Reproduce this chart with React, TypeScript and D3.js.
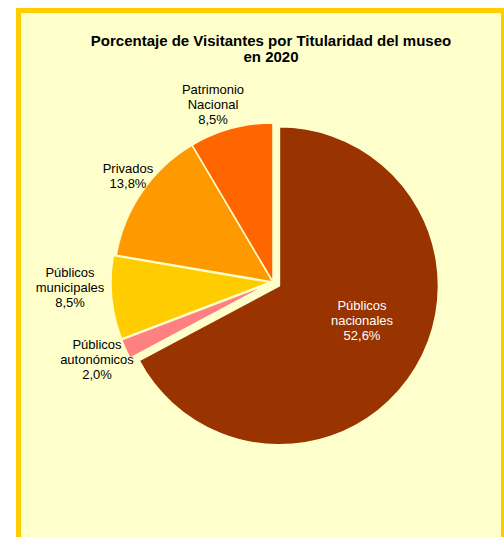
import React from "react";
import * as d3 from "d3";

// Slice data (drawn share in %, printed label, colour) in clockwise order from 12 o'clock
const categories = [
	"Públicos nacionales",
	"Públicos autonómicos",
	"Públicos municipales",
	"Privados",
	"Patrimonio Nacional",
];
const shares = [67.2, 2.0, 8.5, 13.8, 8.5];
const printed = ["52,6%", "2,0%", "8,5%", "13,8%", "8,5%"];
const colors = ["#993300", "#FF8080", "#FFCC00", "#FF9900", "#FF6600"];
const explode = [7.5, 3, 3, 0, 0];

// label lines and anchor positions
const labelLines = [
	["Públicos", "nacionales", printed[0]],
	["Públicos", "autonómicos", printed[1]],
	["Públicos", "municipales", printed[2]],
	["Privados", printed[3]],
	["Patrimonio", "Nacional", printed[4]],
];
const labelPos: [number, number][] = [
	[362, 310],
	[97, 349],
	[70, 277],
	[128, 173],
	[213, 94],
];

const W = 504;
const H = 537;
const cx = 273;
const cy = 282;
const radius = 159;

const App: React.FC = () => {
	const pie = d3
		.pie<number>()
		.sort(null)
		.value((d) => d)
		.startAngle(0)
		.endAngle(2 * Math.PI);
	const arcs = pie(shares);
	const arc = d3.arc<d3.PieArcDatum<number>>().innerRadius(0).outerRadius(radius);

	return (
		<svg
			width={W}
			height={H}
			style={{ position: "absolute", left: 0, top: 0 }}
			fontFamily="'Liberation Sans', Arial, sans-serif"
		>
			<rect x={0} y={0} width={W} height={H} fill="#fff" />
			<rect
				x={18.5}
				y={10.5}
				width={485}
				height={540}
				fill="#FFFFCC"
				stroke="#FFCC00"
				strokeWidth={5}
			/>
			<text textAnchor="middle" fontSize={15} fontWeight="bold" fill="#000">
				<tspan x={271} y={46}>
					Porcentaje de Visitantes por Titularidad del museo
				</tspan>
				<tspan x={271} y={62}>
					en 2020
				</tspan>
			</text>
			<g transform={`translate(${cx},${cy})`}>
				{arcs.map((a, i) => {
					const mid = (a.startAngle + a.endAngle) / 2;
					const dx = Math.sin(mid) * explode[i];
					const dy = -Math.cos(mid) * explode[i];
					return (
						<path
							key={categories[i]}
							d={arc(a) || ""}
							transform={`translate(${dx},${dy})`}
							fill={colors[i]}
							stroke="#FFFFCC"
							strokeWidth={1.5}
							strokeLinejoin="round"
						/>
					);
				})}
			</g>
			{labelLines.map((lines, i) => (
				<text
					key={categories[i]}
					textAnchor="middle"
					fontSize={13}
					fill={i === 0 ? "#fff" : "#000"}
				>
					{lines.map((l, j) => (
						<tspan key={j} x={labelPos[i][0]} y={labelPos[i][1] + j * 14.8}>
							{l}
						</tspan>
					))}
				</text>
			))}
		</svg>
	);
};

export default App;
